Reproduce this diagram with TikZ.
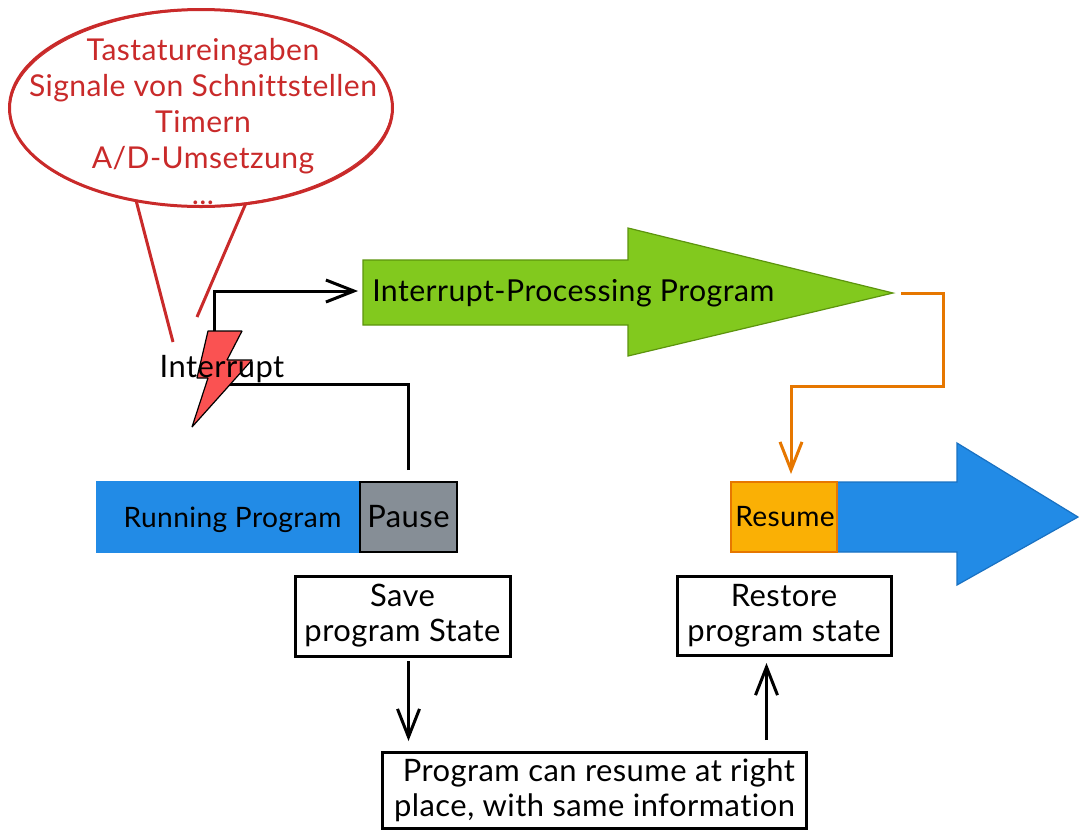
\documentclass[tikz,border=0pt]{standalone}
\usepackage{fontspec}
\setmainfont[LetterSpace=1.5, Ligatures=NoCommon]{Lato}
\usetikzlibrary{positioning}
\usetikzlibrary{shapes.geometric}
\usetikzlibrary{arrows.meta}
\definecolor{sketchred}{HTML}{C92A2A}
\definecolor{boltred}{HTML}{FA5252}
\definecolor{procgreen}{HTML}{82C91E}
\definecolor{procedge}{HTML}{5C940D}
\definecolor{runblue}{HTML}{228BE6}
\definecolor{runedge}{HTML}{1971C2}
\definecolor{pausegrey}{HTML}{868E96}
\definecolor{resumeorange}{HTML}{FAB005}
\definecolor{resumeedge}{HTML}{E67700}
\tikzset{
    % One reference pixel is a quarter of a millimetre
    x=.25mm, y=-.25mm,
    % Open arrow head, drawn large
    >={Straight Barb[length=7mm, width=5.5mm]},
%
    sketch line/.style={line width=.75mm, line join=miter},
    sketch text/.style={font=\fontsize{22}{25}\selectfont, align=center},
%
    % Filled blocks on the program time line
    time block/.style={
        rectangle, draw, line width=.4mm, sketch text, inner sep=0, outer sep=0,
        minimum height=17.5mm},
    % White boxes with a note inside
    note box/.style={
        rectangle, draw=black, sketch line, sketch text, inner sep=0, outer sep=0,
        fill=white}}

\begin{document}
\begin{tikzpicture}
\useasboundingbox (0,0) rectangle (1087,838);

% Speech bubble with the interrupt sources

\node [
    ellipse, draw=sketchred, sketch line, inner sep=0, outer sep=0,
    minimum width=95.75mm, minimum height=49.25mm] (bubble) at (201,108) {};
\node [text=sketchred, sketch text, font=\fontsize{21.4}{25.6}\selectfont] (sources)
    at (203,122)
    {
        Tastatureingaben\\Signale von Schnittstellen\\Timern\\A/D-Umsetzung\\...
    };
\draw [sketchred, line width=.25mm, rotate around={.8:(201,108)}]
    (201,108) ellipse [x radius=191, y radius=98];
\coordinate (tail left) at (173,342);
\coordinate (tail right) at (197,317);
\draw [sketch line, sketchred] (bubble.235) -- (tail left);
\draw [sketch line, sketchred] (bubble.295) -- (tail right);

% Program time line

\path [fill=procgreen, draw=procedge, line width=.3mm]
    (363,260) -- (628,260) -- (628,228)
    -- (893,293) coordinate (green tip)
    -- (628,356) -- (628,325) -- (363,325) -- cycle;
\coordinate (green left) at (363,291);
\node [sketch text, anchor=west, inner sep=0, font=\fontsize{21.5}{25}\selectfont] (processing)
    at (372,293) {Interrupt-Processing Program};

\path [fill=runblue, draw=runedge, line width=.3mm]
    (837,482) -- (957,482) -- (957,443) -- (1078,517)
    -- (957,585) -- (957,552) -- (837,552) -- cycle;

\node [time block, fill=runblue, draw=runblue, minimum width=65.75mm, text depth=0pt,
    font=\fontsize{20}{25}\selectfont] (run) at (228.5,517)
    {\hspace*{2mm}Running Program};
\node [time block, fill=pausegrey, draw=black, minimum width=24.25mm, right=0mm of run] (pause)
    {Pause};
\node [time block, fill=resumeorange, draw=resumeedge, minimum width=26.5mm,
    font=\fontsize{20}{25}\selectfont] (resume)
    at (784,517) {\hspace*{.5mm}Resume};

\node [note box, minimum width=53.75mm, minimum height=20mm] (save) at (402.5,616)
    {Save\\program State};
\node [note box, minimum width=53.5mm, minimum height=19.75mm] (restore) at (784,615.5)
    {Restore\\program state};
\node [note box, minimum width=105.75mm, minimum height=19mm, align=right] (state)
    at (594.5,790)
    {Program can resume at right\\place, with same information};

% Connectors

\coordinate (bolt top) at (214,331);
\coordinate (bolt right) at (230,384);
\coordinate (orange bend) at (943,386);

\draw [sketch line, ->, shorten >=1.25mm] (bolt top) |- (green left);
\draw [sketch line, shorten <=3mm] (pause.north) |- (bolt right);
\draw [sketch line, resumeedge, ->, shorten >=2mm]
    ([xshift=2mm]green tip) -| (orange bend) -| ([xshift=1.75mm]resume.north);
\draw [sketch line, ->, shorten <=1.25mm, shorten >=2.75mm]
    ([xshift=1.5mm]save.south) -- ([xshift=1.5mm]save.south |- state.north);
\draw [sketch line, ->, shorten <=3mm, shorten >=2mm]
    ([xshift=43mm]state.north) -- ([xshift=43mm]state.north |- restore.south);

% Lightning bolt, with its label on top

\draw [fill=boltred, line width=.3mm, line join=bevel]
    (208,331) -- (242,331) -- (227,360) -- (252,360) -- (192,427)
    -- (208,378) -- (197,378) -- cycle;
\node [sketch text] (interrupt) at (222,369) {Interrupt};

\end{tikzpicture}
\end{document}
